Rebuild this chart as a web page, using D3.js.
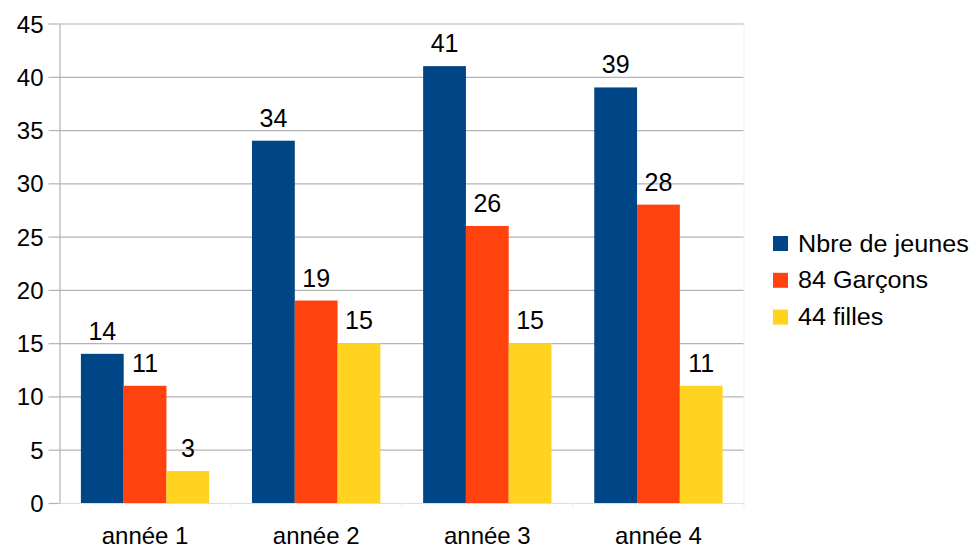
<!DOCTYPE html>
<html>
<head>
<meta charset="utf-8">
<script src="https://cdn.jsdelivr.net/npm/d3@7"></script>
<style>
  html, body { margin: 0; padding: 0; background: #ffffff; }
  svg { display: block; }
  text { font-family: "Liberation Sans", Arial, sans-serif; fill: #000000; }
</style>
</head>
<body>
<svg id="chart" width="973" height="549"></svg>
<script>
// Effectifs par année
const categories = ["année 1", "année 2", "année 3", "année 4"];
const seriesNames = ["Nbre de jeunes", "84 Garçons", "44 filles"];
const jeunes = [14, 34, 41, 39];
const garcons = [11, 19, 26, 28];
const filles = [3, 15, 15, 11];
const yTicks = [0, 5, 10, 15, 20, 25, 30, 35, 40, 45];

const seriesValues = [jeunes, garcons, filles];
const colors = ["#004586", "#ff420e", "#ffd320"];

const svg = d3.select("#chart");
const plot = { left: 59.5, right: 744, top: 23.5, bottom: 503 };

const x = d3.scaleBand()
  .domain(categories)
  .range([plot.left, plot.right])
  .paddingInner(0.25)
  .paddingOuter(0.125);

const xSeries = d3.scaleBand()
  .domain(seriesNames)
  .range([0, x.bandwidth()]);

const y = d3.scaleLinear()
  .domain([0, 45])
  .range([plot.bottom, plot.top]);

// horizontal gridlines
const grid = svg.append("g")
  .attr("transform", `translate(${plot.left},0)`)
  .call(d3.axisLeft(y).tickValues(yTicks).tickSize(-(plot.right - plot.left)).tickFormat(""));
grid.select(".domain").remove();
grid.selectAll(".tick line")
  .attr("stroke", "#b3b3b3")
  .attr("stroke-width", 1.2)
  .filter(d => d === 0).attr("stroke", "#dddddd");

// right border of the plot area
svg.append("line")
  .attr("x1", plot.right).attr("x2", plot.right)
  .attr("y1", plot.top).attr("y2", plot.bottom)
  .attr("stroke", "#eeeeee");

// category separator ticks on the x axis
const xBounds = d3.range(categories.length + 1).map(i => plot.left + i * x.step());
svg.append("g").selectAll("line")
  .data(xBounds.slice(1))
  .join("line")
  .attr("x1", d => d).attr("x2", d => d)
  .attr("y1", plot.bottom).attr("y2", plot.bottom + 5)
  .attr("stroke", "#eeeeee");

// bars
const groups = svg.append("g").selectAll("g")
  .data(categories)
  .join("g")
  .attr("transform", d => `translate(${x(d)},0)`);

groups.selectAll("rect")
  .data((c, i) => seriesNames.map((s, k) => ({ s, k, v: seriesValues[k][i] })))
  .join("rect")
  .attr("x", d => xSeries(d.s))
  .attr("width", xSeries.bandwidth())
  .attr("y", d => y(d.v))
  .attr("height", d => y(0) - y(d.v))
  .attr("fill", d => colors[d.k]);

// value labels
groups.selectAll("text")
  .data((c, i) => seriesNames.map((s, k) => ({ s, k, v: seriesValues[k][i] })))
  .join("text")
  .attr("x", d => xSeries(d.s) + xSeries.bandwidth() / 2)
  .attr("y", d => y(d.v) - 14)
  .attr("text-anchor", "middle")
  .style("font-size", "25px")
  .text(d => d.v);

// y axis with labels
const yAxis = svg.append("g")
  .attr("transform", `translate(${plot.left},0)`)
  .call(d3.axisLeft(y).tickValues(yTicks).tickSize(11).tickPadding(0).tickSizeOuter(0));
yAxis.select(".domain").attr("stroke", "#b3b3b3").attr("stroke-width", 1.2);
yAxis.selectAll(".tick line").attr("stroke", "#b3b3b3").attr("stroke-width", 1.2);
yAxis.selectAll(".tick text")
  .attr("x", -16).attr("dy", null).attr("y", 8.5)
  .attr("text-anchor", "end")
  .style("font-family", "'Liberation Sans', Arial, sans-serif")
  .style("font-size", "24px")
  .attr("fill", "#000");

// category labels
const xAxis = svg.append("g")
  .attr("transform", `translate(0,${plot.bottom})`)
  .call(d3.axisBottom(x).tickSize(0).tickPadding(0));
xAxis.select(".domain").remove();
xAxis.selectAll(".tick text")
  .attr("y", 41).attr("dy", null)
  .style("font-family", "'Liberation Sans', Arial, sans-serif")
  .style("font-size", "24px")
  .attr("fill", "#000");

// legend
const legend = svg.append("g")
  .attr("transform", "translate(773,236)")
  .selectAll("g")
  .data(seriesNames)
  .join("g")
  .attr("transform", (d, i) => `translate(0,${i * 36.8})`);

legend.append("rect")
  .attr("width", 15).attr("height", 15)
  .attr("fill", (d, i) => colors[i]);

legend.append("text")
  .attr("transform", "translate(25,15.5) scale(1.05,1)")
  .style("font-size", "24px")
  .text(d => d);
</script>
</body>
</html>
